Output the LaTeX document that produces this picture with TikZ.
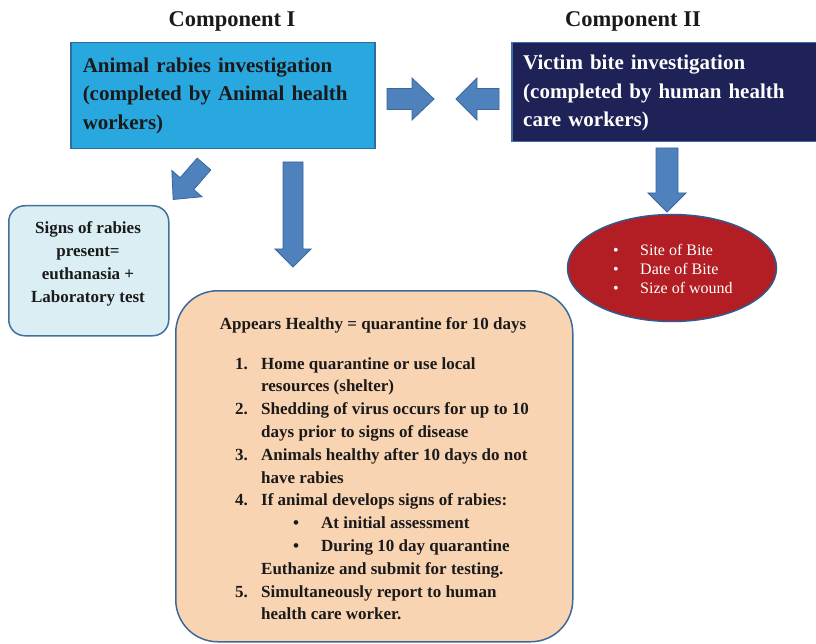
\documentclass[tikz,border=0pt]{standalone}
\usepackage{fontspec}
\setmainfont{Liberation Serif}
\usetikzlibrary{shapes.geometric}
\definecolor{boxA}{HTML}{29A8E0}
\definecolor{boxAline}{HTML}{2E6DA4}
\definecolor{boxB}{HTML}{1F2256}
\definecolor{boxBline}{HTML}{3F6FA6}
\definecolor{arrfill}{HTML}{4F81BD}
\definecolor{arrline}{HTML}{3A679C}
\definecolor{signsfill}{HTML}{DBEEF4}
\definecolor{signsline}{HTML}{41719C}
\definecolor{peach}{HTML}{F9D4B3}
\definecolor{peachline}{HTML}{3B6A9A}
\definecolor{bitered}{HTML}{B21E24}
\definecolor{biteline}{HTML}{2F5B8F}
\definecolor{ink}{HTML}{1A1A1A}
\newcommand\blockarrow[6]{%
  \begin{scope}[shift={(#1)},rotate=#2]
    \draw[barrow] (0,{-#4}) -- ({#3-#6},{-#4}) -- ({#3-#6},{-#5}) -- (#3,0)
      -- ({#3-#6},{#5}) -- ({#3-#6},{#4}) -- (0,{#4}) -- cycle;
  \end{scope}}
\begin{document}
\begin{tikzpicture}[x=1pt,y=-1pt,
  hd/.style={font=\bfseries\fontsize{22.5}{26}\selectfont, text=ink},
  toptext/.style={font=\bfseries\fontsize{21}{28.5}\selectfont, align=left,
     text width=280pt, inner xsep=12pt, inner ysep=0pt},
  barrow/.style={fill=arrfill, draw=arrline, line width=0.8pt, line join=miter},
  bodytext/.style={font=\bfseries\fontsize{17}{22.8}\selectfont, text=ink, inner sep=0pt},
]
\useasboundingbox[fill=white] (0,0) rectangle (816,644);

% headings
\node[hd] (h1) at (232,21) {Component I};
\node[hd] (h2) at (633,21) {Component II};

% top boxes
\node[toptext, anchor=north west, fill=boxA, draw=boxAline, line width=1.5pt, text=ink,
      minimum width=304pt, minimum height=106pt] (c1) at (70,42)
  {Animal rabies investigation\\(completed by Animal health\\workers)};
\node[fill=boxB, draw=boxBline, line width=1.5pt,
      minimum width=310pt, minimum height=99pt, anchor=north west] (c2) at (511,42) {};
\node[toptext, text=white, anchor=west] (c2text) at (511,93)
  {Victim bite investigation\\(completed by human health\\care workers)};

% signs box
\node[draw=signsline, fill=signsfill, line width=1.5pt, rounded corners=16pt,
      minimum width=160pt, minimum height=130pt, anchor=north west] (sbox) at (8,205) {};
\node[font=\bfseries\fontsize{17}{23}\selectfont, text=ink, align=center, inner sep=0pt]
  (stext) at (88,264) {Signs of rabies\\present=\\euthanasia +\\Laboratory test};

% orange box
\node[draw=peachline, fill=peach, line width=1.5pt, rounded corners=42pt,
      minimum width=397pt, minimum height=351pt, anchor=north west] (obox) at (175,290) {};
\node[bodytext] (otitle) at (373,325) {Appears Healthy = quarantine for 10 days};
\node[bodytext, align=left, anchor=north west] (olist) at (235,357) {%
\makebox[26pt][l]{1.}Home quarantine or use local\\
\hspace*{26pt}resources (shelter)\\
\makebox[26pt][l]{2.}Shedding of virus occurs for up to 10\\
\hspace*{26pt}days prior to signs of disease\\
\makebox[26pt][l]{3.}Animals healthy after 10 days do not\\
\hspace*{26pt}have rabies\\
\makebox[26pt][l]{4.}If animal develops signs of rabies:\\
\hspace*{58pt}\makebox[28pt][l]{\textbullet}At initial assessment\\
\hspace*{58pt}\makebox[28pt][l]{\textbullet}During 10 day quarantine\\
\hspace*{26pt}Euthanize and submit for testing.\\
\makebox[26pt][l]{5.}Simultaneously report to human\\
\hspace*{26pt}health care worker.};

% bite ellipse
\node[ellipse, draw=biteline, fill=bitered, line width=1.5pt,
      minimum width=209pt, minimum height=107pt, inner sep=0pt] (bite) at (672,268) {};
\node[font=\fontsize{16}{19}\selectfont, text=white, align=left, inner sep=0pt,
      anchor=west] (btext) at (613,269) {%
\makebox[27pt][l]{\textbullet}Site of Bite\\
\makebox[27pt][l]{\textbullet}Date of Bite\\
\makebox[27pt][l]{\textbullet}Size of wound};

% block arrows
\coordinate (ar1) at (387,99);
\coordinate (ar2) at (499,99);
\coordinate (ar3) at (204,164);
\coordinate (ar4) at (293,162);
\coordinate (ar5) at (667,148);
\blockarrow{ar1}{0}{47}{10.5}{21}{22}
\blockarrow{ar2}{180}{43}{10.5}{21}{21}
\blockarrow{ar3}{-131}{47}{9}{20}{21}
\blockarrow{ar4}{-90}{105}{10}{18}{18}
\blockarrow{ar5}{-90}{64}{11}{19}{19}
\end{tikzpicture}
\end{document}
